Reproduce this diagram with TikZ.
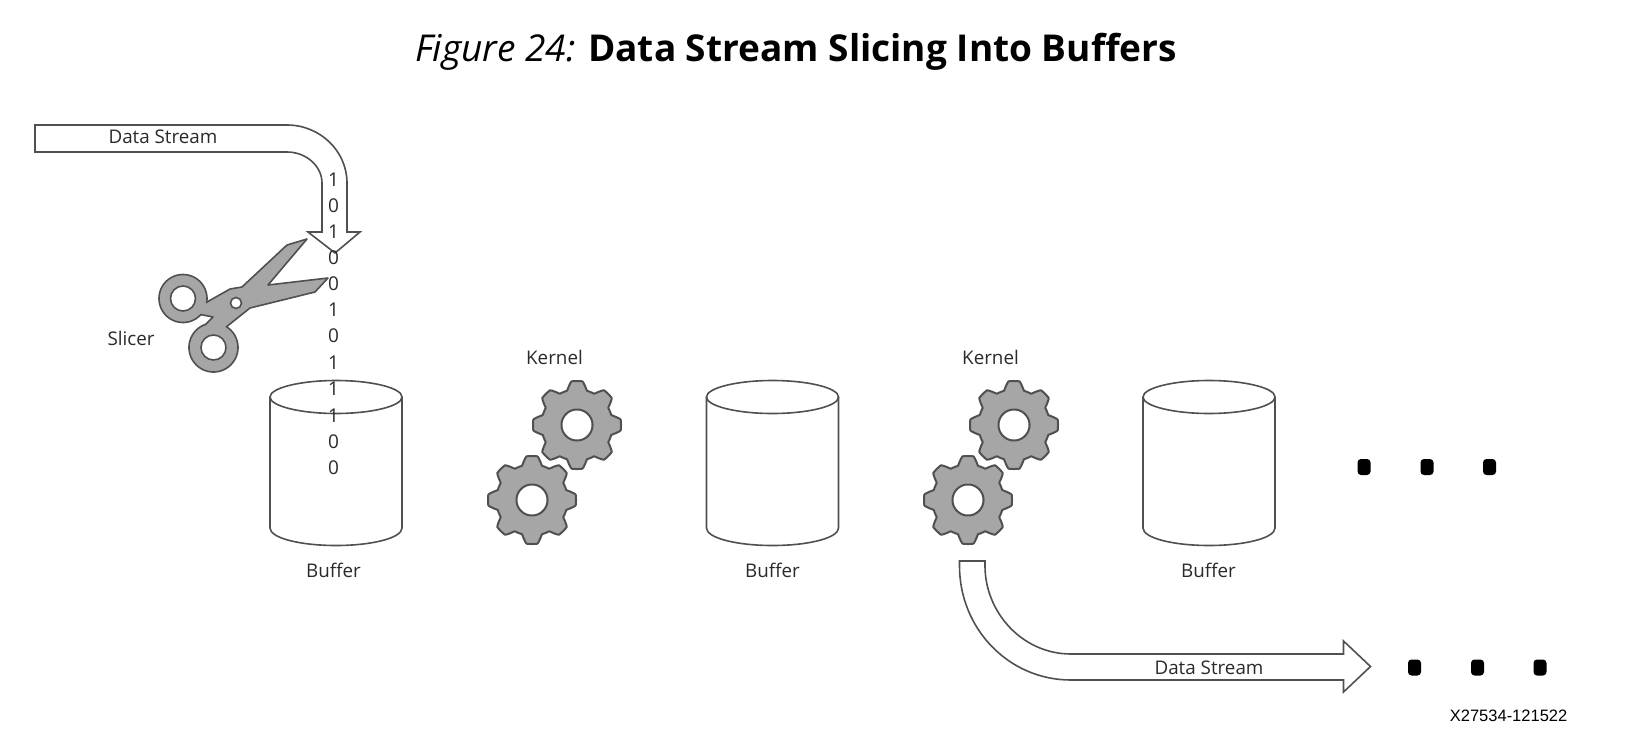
\documentclass[tikz,border=0pt]{standalone}
\usepackage{fontspec}
\setmainfont{Open Sans}
\newfontfamily\titlefont{Open Sans}
\newfontfamily\codefont{Liberation Sans}
\newcommand{\gearat}[2]{%
  \draw[shapeline,line width=2pt,fill=partgray,line join=round]
    plot[domain=0:360,samples=361]
      ({#1+(39.8+4.2*max(-1,min(1,1.7*cos(8*(\x+90))+0.1)))*cos(\x)},
       {#2+(39.8+4.2*max(-1,min(1,1.7*cos(8*(\x+90))+0.1)))*sin(\x)}) -- cycle;
  \draw[shapeline,line width=2pt,fill=white] plot[domain=0:360,samples=60,smooth]
      ({#1+15.5*cos(\x)},{#2+15.5*sin(\x)}) -- cycle;
}
\newcommand{\bufferat}[1]{%
  \draw[shapeline,fill=white] (#1-66,397) -- (#1-66,528)
    .. controls (#1-66,538) and (#1-36,545.5) .. (#1,545.5)
    .. controls (#1+36,545.5) and (#1+66,538) .. (#1+66,528) -- (#1+66,397);
  \draw[shapeline] (#1-66,397)
    .. controls (#1-66,388) and (#1-36,380.5) .. (#1,380.5)
    .. controls (#1+36,380.5) and (#1+66,388) .. (#1+66,397)
    .. controls (#1+66,406) and (#1+36,413.5) .. (#1,413.5)
    .. controls (#1-36,413.5) and (#1-66,406) .. (#1-66,397) -- cycle;
}
\definecolor{partgray}{HTML}{A6A6A6}
\definecolor{linegray}{HTML}{505050}
\definecolor{textgray}{HTML}{2A2A2A}
\tikzset{
  shapeline/.style={draw=linegray,line width=1.6pt},
  lbl/.style={inner sep=0pt,text=textgray,font=\fontsize{18.8}{20}\selectfont},
  digit/.style={lbl,font=\fontsize{19}{20}\selectfont},
  dotmark/.style={fill=black,rounded corners=3.5pt,minimum width=13pt,minimum height=16pt,inner sep=0pt}
}
\begin{document}
\begin{tikzpicture}[x=1pt,y=-1pt]
\useasboundingbox[fill=white] (0,0) rectangle (1628,734);
\node[anchor=base,inner sep=0pt,text=black] (title) at (796,61)
  {\titlefont\fontsize{37}{40}\selectfont\textit{Figure 24:} \textbf{Data Stream Slicing Into Buffers}};
% top arrow
\draw[shapeline,fill=white,line join=miter] (35,125) -- (287,125)
  .. controls (320,125) and (347,151) .. (347,183) -- (347,232) -- (360,232)
  -- (335,253) -- (308,232) -- (322,232) -- (322,183)
  .. controls (322,166) and (306,152) .. (287,152) -- (35,152) -- cycle;
% scissors
\draw[shapeline,fill=partgray,line join=round,even odd rule]
  (307,239) -- (287,245) -- (242,287) -- (230,289) -- (207,302)
  -- plot[domain=10:-318,samples=70,smooth] ({183+24*cos(\x)},{298.5+24*sin(\x)})
  -- (213,317) -- (205,325)
  -- plot[domain=250:-58,samples=70,smooth] ({213.5+24.5*cos(\x)},{347.5+24.5*sin(\x)})
  -- (250,308) -- (315,292) -- (328,278) -- (268,285) -- cycle;
\draw[shapeline,fill=white] (183,298.5) circle[radius=12.5];
\draw[shapeline,fill=white] (213.5,347.5) circle[radius=12.5];
\draw[shapeline,fill=white] (236,303) circle[radius=5.5];
% buffers
\bufferat{336}
\bufferat{772.5}
\bufferat{1209}
% gears
\gearat{577}{425}
\gearat{532}{500}
\gearat{1014}{425}
\gearat{968}{500}
% bottom arrow
\draw[shapeline,fill=white,line join=miter] (959.5,561) -- (985,561) -- (985,566)
  .. controls (985,612) and (1022,654) .. (1071,654) -- (1343.5,654) -- (1343.5,641)
  -- (1370.5,666.5) -- (1343.5,692) -- (1343.5,680) -- (1071,680)
  .. controls (1008,680) and (959.5,628) .. (959.5,566) -- cycle;
% digits
\node[digit] (d1) at (333.5,180) {1};
\node[digit] (d2) at (333.5,206) {0};
\node[digit] (d3) at (333.5,232) {1};
\node[digit] (d4) at (333.5,258) {0};
\node[digit] (d5) at (333.5,284) {0};
\node[digit] (d6) at (333.5,310) {1};
\node[digit] (d7) at (333.5,336) {0};
\node[digit] (d8) at (333.5,363) {1};
\node[digit] (d9) at (333.5,389) {1};
\node[digit] (d10) at (333.5,416) {1};
\node[digit] (d11) at (333.5,442) {0};
\node[digit] (d12) at (333.5,468) {0};
% labels
\node[lbl] (ds1) at (163,136.5) {Data Stream};
\node[lbl] (ds2) at (1209,667.5) {Data Stream};
\node[lbl] (slicer) at (131,338.5) {Slicer};
\node[lbl] (kernel1) at (554.5,357.5) {Kernel};
\node[lbl] (kernel2) at (990.5,357.5) {Kernel};
\node[lbl] (buf1) at (333.5,570.5) {Buffer};
\node[lbl] (buf2) at (772.5,570.5) {Buffer};
\node[lbl] (buf3) at (1208.5,570.5) {Buffer};
% dots
\node[dotmark] (u1) at (1364,467) {};
\node[dotmark] (u2) at (1427,467) {};
\node[dotmark] (u3) at (1489.5,467) {};
\node[dotmark] (l1) at (1414.5,667.5) {};
\node[dotmark] (l2) at (1477.5,667.5) {};
\node[dotmark] (l3) at (1540,667.5) {};
\node[anchor=east,inner sep=0pt,text=black] (code) at (1567.5,716)
  {\codefont\fontsize{16.5}{18}\selectfont X27534-121522};
\end{tikzpicture}
\end{document}
